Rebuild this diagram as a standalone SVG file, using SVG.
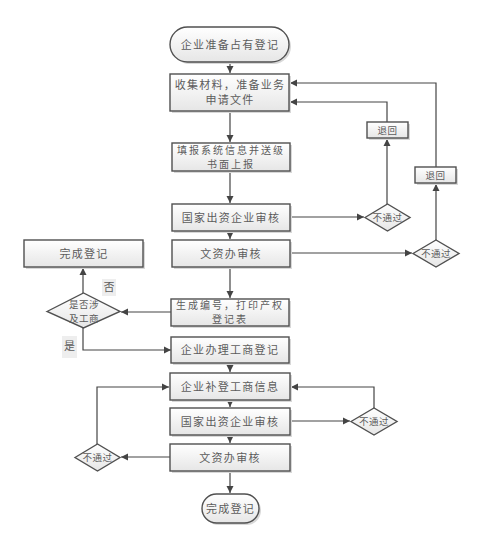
<svg xmlns="http://www.w3.org/2000/svg" width="482" height="535" viewBox="0 0 482 535">
<style>
.n{fill:url(#g);stroke:#505050;stroke-width:1.4}
.sh{fill:#d8d8d8}
.t{font-family:"Noto Sans CJK SC","Noto Sans",sans-serif;font-size:11px;fill:#5c5c5c;letter-spacing:1.3px;text-anchor:middle}
.m{font-size:10px;letter-spacing:2px}
.s{font-size:9.5px;letter-spacing:0.5px}
.c{fill:none;stroke:#444;stroke-width:1.2}
</style>
<defs>
<linearGradient id="g" x1="0" y1="0" x2="0" y2="1"><stop offset="0" stop-color="#ffffff"/><stop offset="1" stop-color="#e6e6e6"/></linearGradient>
<marker id="a" markerWidth="8" markerHeight="8" refX="7" refY="4" orient="auto" markerUnits="userSpaceOnUse"><path d="M0,0.5 L7,4 L0,7.5 z" fill="#444"/></marker>
</defs>
<rect width="482" height="535" fill="#fff"/>
<g id="connectors">
<path class="c" d="M230,62 V73" marker-end="url(#a)"/>
<path class="c" d="M230,111 V142" marker-end="url(#a)"/>
<path class="c" d="M230,171 V203" marker-end="url(#a)"/>
<path class="c" d="M230,231 V239" marker-end="url(#a)"/>
<path class="c" d="M230,267 V298" marker-end="url(#a)"/>
<path class="c" d="M290,217 H364" marker-end="url(#a)"/>
<path class="c" d="M387,204 V139" marker-end="url(#a)"/>
<path class="c" d="M387,122 V102 H290" marker-end="url(#a)"/>
<path class="c" d="M290,253 H412" marker-end="url(#a)"/>
<path class="c" d="M436,240 V184" marker-end="url(#a)"/>
<path class="c" d="M436,167 V83 H290" marker-end="url(#a)"/>
<path class="c" d="M171,312 H121" marker-end="url(#a)"/>
<path class="c" d="M83,293 V268" marker-end="url(#a)"/>
<path class="c" d="M83,328 V350 H171" marker-end="url(#a)"/>
<path class="c" d="M230,363 V372" marker-end="url(#a)"/>
<path class="c" d="M230,400 V407" marker-end="url(#a)"/>
<path class="c" d="M230,435 V443" marker-end="url(#a)"/>
<path class="c" d="M230,471 V493" marker-end="url(#a)"/>
<path class="c" d="M290,421 H350" marker-end="url(#a)"/>
<path class="c" d="M374,408 V387 H291" marker-end="url(#a)"/>
<path class="c" d="M170,457 H121" marker-end="url(#a)"/>
<path class="c" d="M97,444 V387 H169" marker-end="url(#a)"/>
</g>
<g id="start">
<rect class="sh" x="172" y="29" width="119" height="35" rx="17.5"/>
<rect class="n" x="170" y="27" width="119" height="35" rx="17.5"/>
<text class="t" x="230" y="48.5">企业准备占有登记</text>
</g>
<g id="collect">
<rect class="sh" x="172" y="76" width="119" height="37"/>
<rect class="n" x="170" y="74" width="119" height="37"/>
<text class="t" x="230" y="89">收集材料，准备业务</text>
<text class="t" x="230" y="104">申请文件</text>
</g>
<g id="fill">
<rect class="sh" x="174" y="145" width="118" height="28"/>
<rect class="n" x="172" y="143" width="118" height="28"/>
<text class="t m" x="231" y="153.5">填报系统信息并送级</text>
<text class="t m" x="231" y="168">书面上报</text>
</g>
<g id="review1">
<rect class="sh" x="174" y="206" width="118" height="27"/>
<rect class="n" x="172" y="204" width="118" height="27"/>
<text class="t" x="231" y="221.5">国家出资企业审核</text>
</g>
<g id="review2">
<rect class="sh" x="174" y="242" width="118" height="27"/>
<rect class="n" x="172" y="240" width="118" height="27"/>
<text class="t" x="231" y="257.5">文资办审核</text>
</g>
<g id="reject1">
<path class="n" d="M365,217.5 L387.5,204 L410,217.5 L387.5,231 z"/>
<text class="t s" x="387.5" y="221">不通过</text>
</g>
<g id="back1">
<rect class="sh" x="369" y="124" width="41" height="16"/>
<rect class="n" x="367" y="122" width="41" height="16"/>
<text class="t s" x="387.5" y="134">退回</text>
</g>
<g id="reject2">
<path class="n" d="M413,253.5 L436,240 L459,253.5 L436,267 z"/>
<text class="t s" x="436" y="257">不通过</text>
</g>
<g id="back2">
<rect class="sh" x="417" y="169" width="41" height="16"/>
<rect class="n" x="415" y="167" width="41" height="16"/>
<text class="t s" x="435.5" y="179">退回</text>
</g>
<g id="done1">
<rect class="sh" x="26" y="242" width="119" height="27"/>
<rect class="n" x="24" y="240" width="119" height="27"/>
<text class="t" x="84" y="257.5">完成登记</text>
</g>
<g id="gen">
<rect class="sh" x="173" y="301" width="118" height="27"/>
<rect class="n" x="171" y="299" width="118" height="27"/>
<text class="t m" x="230" y="309">生成编号，打印产权</text>
<text class="t m" x="230" y="323">登记表</text>
</g>
<g id="decide">
<path class="n" d="M47,311.5 L83.5,293 L120,311.5 L83.5,328 z"/>
<text class="t s" x="84" y="307.5">是否涉</text>
<text class="t s" x="84" y="321.5">及工商</text>
</g>
<g id="no-label">
<rect x="102" y="279" width="14" height="17" fill="#eeeeee"/>
<text class="t" x="109" y="291" style="letter-spacing:0">否</text>
</g>
<g id="yes-label">
<rect x="62" y="336" width="15" height="22" fill="#eeeeee"/>
<text class="t" x="69.5" y="350" style="letter-spacing:0">是</text>
</g>
<g id="biz">
<rect class="sh" x="173" y="339" width="118" height="26"/>
<rect class="n" x="171" y="337" width="118" height="26"/>
<text class="t" x="230" y="354">企业办理工商登记</text>
</g>
<g id="supp">
<rect class="sh" x="172" y="375" width="120" height="27"/>
<rect class="n" x="170" y="373" width="120" height="27"/>
<text class="t" x="230" y="390.5">企业补登工商信息</text>
</g>
<g id="review3">
<rect class="sh" x="172" y="410" width="120" height="27"/>
<rect class="n" x="170" y="408" width="120" height="27"/>
<text class="t" x="230" y="425.5">国家出资企业审核</text>
</g>
<g id="review4">
<rect class="sh" x="172" y="446" width="120" height="27"/>
<rect class="n" x="170" y="444" width="120" height="27"/>
<text class="t" x="230" y="461.5">文资办审核</text>
</g>
<g id="reject3">
<path class="n" d="M351,421.5 L374,408 L397,421.5 L374,435 z"/>
<text class="t s" x="374" y="425">不通过</text>
</g>
<g id="reject4">
<path class="n" d="M75,457.5 L97.5,444 L120,457.5 L97.5,471 z"/>
<text class="t s" x="97.5" y="461">不通过</text>
</g>
<g id="end">
<rect class="sh" x="204" y="496" width="57" height="29" rx="14.5"/>
<rect class="n" x="202" y="494" width="57" height="29" rx="14.5"/>
<text class="t" x="230.5" y="512.5">完成登记</text>
</g>
</svg>
